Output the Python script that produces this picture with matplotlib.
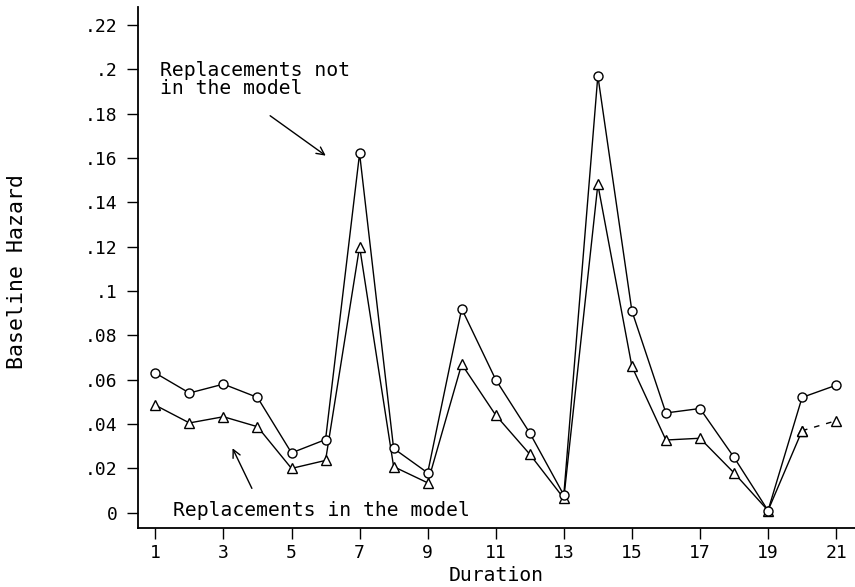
import matplotlib
matplotlib.use("Agg")
import matplotlib.pyplot as plt
from matplotlib.ticker import FuncFormatter

duration = list(range(1, 22))
not_in_model = [0.063, 0.054, 0.058, 0.052, 0.027, 0.033, 0.162, 0.029, 0.018, 0.092,
                0.060, 0.036, 0.008, 0.197, 0.091, 0.045, 0.047, 0.025, 0.001, 0.052, 0.0575]
in_model = [0.0485, 0.0405, 0.0433, 0.0388, 0.020, 0.0236, 0.120, 0.0208, 0.0135, 0.067,
            0.044, 0.0264, 0.0065, 0.148, 0.066, 0.0328, 0.0336, 0.018, 0.001, 0.037, 0.0415]
x_ticks = [1, 3, 5, 7, 9, 11, 13, 15, 17, 19, 21]
y_ticks = [0, 0.02, 0.04, 0.06, 0.08, 0.10, 0.12, 0.14, 0.16, 0.18, 0.20, 0.22]

plt.rcParams['font.family'] = ['DejaVu Sans Mono']

fig = plt.figure(figsize=(8.55, 5.87), dpi=100)
ax = fig.add_axes([0.1618, 0.100, 0.838, 0.888])

lw = 1.0
ax.plot(duration, not_in_model, color='black', lw=lw, marker='o', ms=6.5,
        mfc='white', mec='black', mew=1.0, zorder=3)
ax.plot(duration[:-1], in_model[:-1], color='black', lw=lw, marker='^', ms=6.5,
        mfc='white', mec='black', mew=1.0, zorder=2)
ax.plot(duration[-2:], in_model[-2:], color='black', lw=lw, ls=(0, (4, 5)), marker='^', ms=6.5,
        mfc='white', mec='black', mew=1.0, zorder=2)

ax.set_xlim(0.5, 21.55)
ax.set_ylim(-0.007, 0.228)
ax.set_xticks(x_ticks)
ax.set_yticks(y_ticks)

def yfmt(v, pos):
    if abs(v) < 1e-9:
        return '0'
    s = ('%.2f' % v).rstrip('0')
    return s[1:] if s.startswith('0') else s

ax.yaxis.set_major_formatter(FuncFormatter(yfmt))
ax.xaxis.set_major_formatter(FuncFormatter(lambda v, p: '%d' % v))

for s in ['top', 'right']:
    ax.spines[s].set_visible(False)
for s in ['left', 'bottom']:
    ax.spines[s].set_linewidth(1.3)

ax.tick_params(axis='both', direction='out', length=8, width=1.0, labelsize=13)
ax.tick_params(axis='y', pad=7)
ax.tick_params(axis='x', pad=3)

ax.set_xlabel('Duration', fontsize=14.2, labelpad=3)
ax.text(-0.170, 0.492, 'Baseline Hazard', rotation=90, fontsize=15.5,
        transform=ax.transAxes, ha='center', va='center')

ax.text(1.147, 0.1953, 'Replacements not\nin the model', fontsize=14.2,
        ha='left', va='center', linespacing=0.95)
ax.annotate('', xy=(6.006, 0.1610), xytext=(4.372, 0.1790),
            arrowprops=dict(arrowstyle='->', color='black', lw=1.0,
                            mutation_scale=14, shrinkA=0, shrinkB=0))
ax.text(1.528, 0.0012, 'Replacements in the model', fontsize=14.2,
        ha='left', va='center')
ax.annotate('', xy=(3.267, 0.0291), xytext=(3.836, 0.0110),
            arrowprops=dict(arrowstyle='->', color='black', lw=1.0,
                            mutation_scale=14, shrinkA=0, shrinkB=0))

fig.savefig('out.png', dpi=100)
